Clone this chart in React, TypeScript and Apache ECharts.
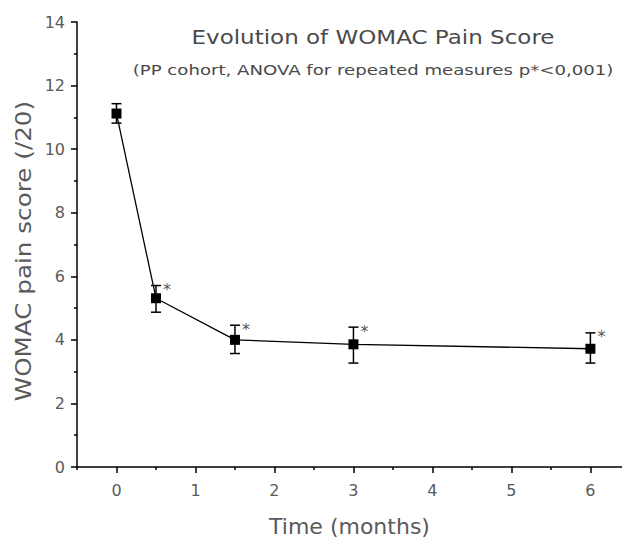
import React, { useEffect, useRef } from "react";
import * as echarts from "echarts";

const months = [0, 0.5, 1.5, 3, 6];
const meanScore = [11.12, 5.31, 4.0, 3.86, 3.72];
const lowerBound = [10.82, 4.87, 3.57, 3.27, 3.27];
const upperBound = [11.43, 5.71, 4.46, 4.4, 4.22];
const significant = [false, true, true, true, true];
const xTickLabels = [0, 1, 2, 3, 4, 5, 6];
const xMinorTicks = [-0.5, 0.5, 1.5, 2.5, 3.5, 4.5, 5.5];

const titleText = "Evolution of WOMAC Pain Score";
const subtitleText = "(PP cohort, ANOVA for repeated measures p*<0,001)";
const xAxisName = "Time (months)";
const yAxisName = "WOMAC pain score (/20)";
const FONT = "'DejaVu Sans', sans-serif";
const TEXT_COLOR = "#5a5a5a";

export default function App() {
  const ref = useRef<HTMLDivElement>(null);
  useEffect(() => {
    if (!ref.current) return;
    const chart = echarts.init(ref.current, undefined, { renderer: "svg" });
    const lineData = months.map((m, i) => [m, meanScore[i]]);
    const errData = months.map((m, i) => [m, lowerBound[i], upperBound[i], significant[i] ? 1 : 0]);
    chart.setOption({
      animation: false,
      backgroundColor: "#fff",
      textStyle: { fontFamily: FONT },
      graphic: [
        {
          type: "text",
          x: 373,
          y: 37,
          scaleX: 1.15,
          style: {
            text: titleText,
            align: "center",
            verticalAlign: "middle",
            font: `20px ${FONT}`,
            fill: "#4a4a4a",
          },
        },
        {
          type: "text",
          x: 373,
          y: 70,
          scaleX: 1.25,
          style: {
            text: subtitleText,
            align: "center",
            verticalAlign: "middle",
            font: `14.5px ${FONT}`,
            fill: "#4a4a4a",
          },
        },
        {
          type: "text",
          x: 23,
          y: 251,
          rotation: Math.PI / 2,
          scaleX: 1.12,
          style: {
            text: yAxisName,
            align: "center",
            verticalAlign: "middle",
            font: `22px ${FONT}`,
            fill: TEXT_COLOR,
          },
        },
      ],
      grid: { left: 77, right: 0, top: 22, bottom: 72, containLabel: false, outerBoundsMode: "none" },
      xAxis: [
        {
          type: "value",
          min: -0.5,
          max: 6.4,
          position: "bottom",
          name: xAxisName,
          nameLocation: "middle",
          nameGap: 48,
          nameTextStyle: { fontSize: 22, color: TEXT_COLOR, fontFamily: FONT },
          axisLine: { show: true, onZero: false, lineStyle: { color: "#000", width: 1.5 } },
          axisTick: { show: true, length: 6, customValues: xTickLabels, lineStyle: { color: "#000", width: 1.5 } },
          axisLabel: { show: true, customValues: xTickLabels, margin: 15, fontSize: 16, color: TEXT_COLOR, fontFamily: FONT },
          splitLine: { show: false },
        },
        {
          type: "value",
          min: -0.5,
          max: 6.4,
          position: "bottom",
          axisLine: { show: false, onZero: false },
          axisTick: { show: true, length: 3, customValues: xMinorTicks, lineStyle: { color: "#000", width: 1.5 } },
          axisLabel: { show: false },
          splitLine: { show: false },
        },
      ],
      yAxis: {
        type: "value",
        min: 0,
        max: 14,
        interval: 2,
        axisLine: { show: true, onZero: false, lineStyle: { color: "#000", width: 1.5 } },
        axisTick: { show: true, length: 6, lineStyle: { color: "#000", width: 1.5 } },
        minorTick: { show: true, splitNumber: 2, length: 3, lineStyle: { color: "#000", width: 1.5 } },
        axisLabel: { margin: 12, fontSize: 16, color: TEXT_COLOR, fontFamily: FONT },
        splitLine: { show: false },
      },
      series: [
        {
          type: "custom",
          xAxisIndex: 0,
          data: errData,
          z: 2,
          renderItem: (params: any, api: any) => {
            const x = api.value(0);
            const lo = api.coord([x, api.value(1)]);
            const hi = api.coord([x, api.value(2)]);
            const cap = 5;
            const style = { stroke: "#000", lineWidth: 1.5 };
            const children: any[] = [
              { type: "line", shape: { x1: lo[0], y1: lo[1], x2: hi[0], y2: hi[1] }, style },
              { type: "line", shape: { x1: hi[0] - cap, y1: hi[1], x2: hi[0] + cap, y2: hi[1] }, style },
              { type: "line", shape: { x1: lo[0] - cap, y1: lo[1], x2: lo[0] + cap, y2: lo[1] }, style },
            ];
            if (api.value(3) === 1) {
              children.push({
                type: "text",
                x: hi[0] + 7,
                y: hi[1] + 4,
                style: {
                  text: "*",
                  align: "left",
                  verticalAlign: "middle",
                  font: `16px ${FONT}`,
                  fill: "#555",
                },
              });
            }
            return { type: "group", children };
          },
        },
        {
          type: "line",
          xAxisIndex: 0,
          data: lineData,
          z: 3,
          symbol: "rect",
          symbolSize: 10,
          showSymbol: true,
          itemStyle: { color: "#000" },
          lineStyle: { color: "#000", width: 1.3 },
        },
      ],
    });
    return () => chart.dispose();
  }, []);
  return (
    <div
      ref={ref}
      style={{ position: "fixed", left: 0, top: 0, width: 622, height: 539 }}
    />
  );
}
